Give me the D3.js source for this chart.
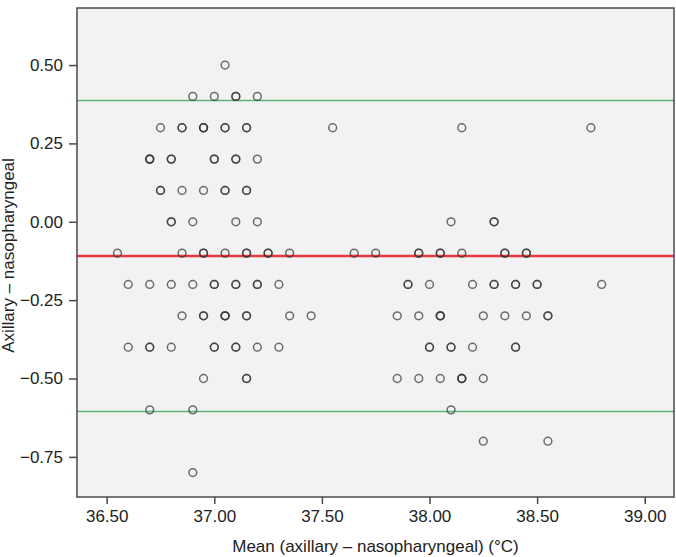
<!DOCTYPE html>
<html>
<head>
<meta charset="utf-8">
<script src="https://cdn.jsdelivr.net/npm/d3@7"></script>
<style>
  html, body { margin: 0; padding: 0; background: #ffffff; }
  svg { display: block; font-family: "Liberation Sans", Arial, sans-serif; }
</style>
</head>
<body>
<svg id="chart" width="676" height="557"></svg>
<script>
// Mean of the two measurements (°C)
const meanVals = [
  37.05,
  36.90, 37.00, 37.10, 37.20,
  36.75, 36.85, 36.95, 37.05, 37.15, 37.55, 38.15, 38.75,
  36.70, 36.80, 37.00, 37.10, 37.20,
  36.75, 36.85, 36.95, 37.05, 37.15,
  36.80, 36.90, 37.10, 37.20, 38.10, 38.30,
  36.55, 36.85, 36.95, 37.05, 37.15, 37.25, 37.35, 37.65, 37.75, 37.95, 38.05, 38.15, 38.35, 38.45,
  36.60, 36.70, 36.80, 36.90, 37.00, 37.10, 37.20, 37.30, 37.90, 38.00, 38.20, 38.30, 38.40, 38.50, 38.80,
  36.85, 36.95, 37.05, 37.15, 37.35, 37.45, 37.85, 37.95, 38.05, 38.25, 38.35, 38.45, 38.55,
  36.60, 36.70, 36.80, 37.00, 37.10, 37.20, 37.30, 38.00, 38.10, 38.20, 38.40,
  36.95, 37.15, 37.85, 37.95, 38.05, 38.15, 38.25,
  36.70, 36.90, 38.10,
  38.25, 38.55,
  36.90
];
// Difference (axillary − nasopharyngeal)
const diffVals = [
  0.5,
  0.4, 0.4, 0.4, 0.4,
  0.3, 0.3, 0.3, 0.3, 0.3, 0.3, 0.3, 0.3,
  0.2, 0.2, 0.2, 0.2, 0.2,
  0.1, 0.1, 0.1, 0.1, 0.1,
  0.0, 0.0, 0.0, 0.0, 0.0, 0.0,
  -0.1, -0.1, -0.1, -0.1, -0.1, -0.1, -0.1, -0.1, -0.1, -0.1, -0.1, -0.1, -0.1, -0.1,
  -0.2, -0.2, -0.2, -0.2, -0.2, -0.2, -0.2, -0.2, -0.2, -0.2, -0.2, -0.2, -0.2, -0.2, -0.2,
  -0.3, -0.3, -0.3, -0.3, -0.3, -0.3, -0.3, -0.3, -0.3, -0.3, -0.3, -0.3, -0.3,
  -0.4, -0.4, -0.4, -0.4, -0.4, -0.4, -0.4, -0.4, -0.4, -0.4, -0.4,
  -0.5, -0.5, -0.5, -0.5, -0.5, -0.5, -0.5,
  -0.6, -0.6, -0.6,
  -0.7, -0.7,
  -0.8
];
// Number of overlapping observations at each point
const counts = [
  1,
  1, 1, 2, 1,
  1, 2, 3, 2, 2, 1, 1, 1,
  3, 2, 2, 2, 1,
  2, 1, 1, 2, 2,
  2, 1, 1, 1, 1, 2,
  1, 1, 2, 1, 2, 2, 1, 1, 1, 2, 2, 1, 2, 2,
  1, 1, 1, 1, 2, 2, 2, 1, 2, 1, 1, 2, 2, 2, 1,
  1, 2, 3, 2, 1, 1, 1, 1, 3, 1, 1, 1, 2,
  1, 2, 1, 2, 2, 1, 1, 2, 2, 1, 2,
  1, 2, 1, 1, 1, 3, 1,
  1, 1, 1,
  1, 1,
  1
];
const xTicks = [36.5, 37.0, 37.5, 38.0, 38.5, 39.0];
const yTicks = [0.5, 0.25, 0.0, -0.25, -0.5, -0.75];
const meanDiff = -0.109;
const upperLoA = 0.387;
const lowerLoA = -0.605;
const xTitle = "Mean (axillary \u2013 nasopharyngeal) (\u00B0C)";
const yTitle = "Axillary \u2013 nasopharyngeal";

const svg = d3.select("#chart");
const pL = 77, pR = 674, pT = 8, pB = 497;

const x = d3.scaleLinear().domain([36.362, 39.136]).range([pL, pR]);
const y = d3.scaleLinear().domain([-0.878, 0.682]).range([pB, pT]);

// plot background
svg.append("rect")
  .attr("x", pL).attr("y", pT)
  .attr("width", pR - pL).attr("height", pB - pT)
  .attr("fill", "#f2f2f2");

// reference lines
const lines = [
  { v: upperLoA, c: "#5fb370", w: 1.5 },
  { v: lowerLoA, c: "#5fb370", w: 1.5 },
  { v: meanDiff, c: "#e8383d", w: 2.5 }
];
svg.append("g").selectAll("line").data(lines).join("line")
  .attr("x1", pL).attr("x2", pR)
  .attr("y1", d => y(d.v)).attr("y2", d => y(d.v))
  .attr("stroke", d => d.c).attr("stroke-width", d => d.w);

// points (duplicated for overlapping observations)
const pts = [];
meanVals.forEach((m, i) => {
  for (let k = 0; k < counts[i]; k++) pts.push({ m: m, d: diffVals[i] });
});
svg.append("g").selectAll("circle").data(pts).join("circle")
  .attr("cx", d => x(d.m))
  .attr("cy", d => y(d.d))
  .attr("r", 3.9)
  .attr("fill", "none")
  .attr("stroke", "#333333")
  .attr("stroke-opacity", 0.7)
  .attr("stroke-width", 1.5);

// frame
svg.append("rect")
  .attr("x", pL).attr("y", pT)
  .attr("width", pR - pL).attr("height", pB - pT)
  .attr("fill", "none").attr("stroke", "#4a4a4a").attr("stroke-width", 1.5);

// axes
const fmt = d3.format(".2f");
const xAxis = svg.append("g")
  .attr("transform", `translate(0,${pB})`)
  .call(d3.axisBottom(x).tickValues(xTicks).tickFormat(fmt).tickSize(7).tickPadding(6));
const yAxis = svg.append("g")
  .attr("transform", `translate(${pL},0)`)
  .call(d3.axisLeft(y).tickValues(yTicks).tickFormat(fmt).tickSize(8).tickPadding(6));
[xAxis, yAxis].forEach(g => {
  g.select(".domain").remove();
  g.selectAll(".tick line").attr("stroke", "#4a4a4a").attr("stroke-width", 1.5);
  g.selectAll(".tick text")
    .attr("fill", "#222")
    .style("font-size", "17px")
    .style("font-family", "'Liberation Sans', Arial, sans-serif");
});

// titles
svg.append("text")
  .attr("x", (pL + pR) / 2).attr("y", 552)
  .attr("text-anchor", "middle")
  .attr("fill", "#222")
  .style("font-size", "17px")
  .text(xTitle);

svg.append("text")
  .attr("transform", `translate(14,${(pT + pB) / 2 + 3}) rotate(-90)`)
  .attr("text-anchor", "middle")
  .attr("fill", "#222")
  .style("font-size", "17px")
  .text(yTitle);
</script>
</body>
</html>
